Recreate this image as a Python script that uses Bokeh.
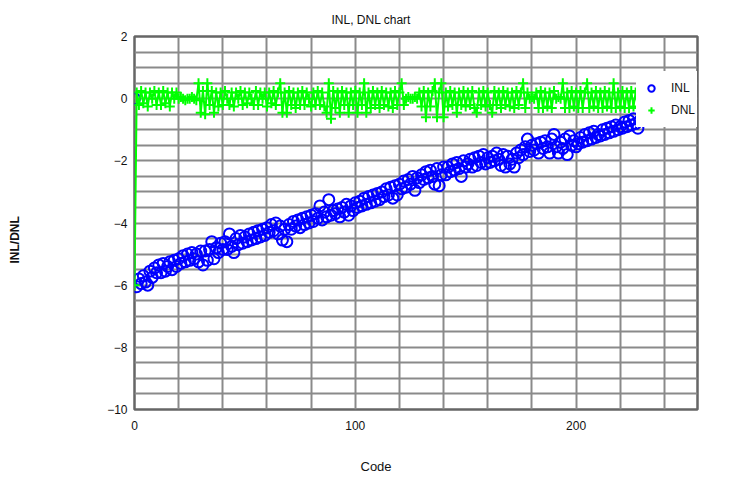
from bokeh.plotting import figure
from bokeh.models import FixedTicker, Legend, LegendItem, Title, Range1d
from bokeh.embed import file_html
from bokeh.resources import INLINE

title_text = "INL, DNL chart"
x_label = "Code"
y_label = "INL/DNL"
x_ticks = [0, 100, 200]
y_ticks = [2, 0, -2, -4, -6, -8, -10]

inl = [0.0,
       -6.05, -5.8, -5.95, -5.7, -5.9, -6.0, -5.55, -5.75, -5.45, -5.6,
       -5.35, -5.6, -5.3, -5.55, -5.4, -5.25, -5.5, -5.2, -5.4, -5.15,
       -5.3, -5.05, -5.25, -5.0, -5.2, -4.95, -5.15, -5.0, -5.25, -4.9,
       -5.35, -4.9, -5.2, -4.85, -4.6, -5.15, -4.8, -4.95, -4.65, -4.85,
       -4.6, -4.85, -4.35, -4.75, -4.95, -4.5, -4.7, -4.4, -4.65, -4.45,
       -4.6, -4.35, -4.55, -4.3, -4.5, -4.25, -4.45, -4.2, -4.4, -4.15,
       -4.3, -4.05, -4.25, -4.0, -4.35, -4.1, -4.55, -4.2, -4.6, -4.05,
       -4.2, -3.95, -4.1, -3.9, -4.15, -3.85, -4.05, -3.8, -4.0, -3.75,
       -3.95, -3.7, -3.85, -3.45, -3.9, -3.65, -3.8, -3.25, -3.75, -3.6,
       -3.7, -3.55, -3.8, -3.5, -3.65, -3.4, -3.75, -3.45, -3.6, -3.35,
       -3.5, -3.3, -3.45, -3.2, -3.4, -3.15, -3.35, -3.1, -3.3, -3.05,
       -3.25, -3.0, -3.15, -2.9, -3.1, -2.85, -3.2, -2.8, -3.1, -2.75,
       -2.9, -2.65, -2.85, -2.6, -2.75, -2.5, -2.95, -2.55, -2.7, -2.45,
       -2.6, -2.35, -2.55, -2.3, -2.5, -2.75, -2.25, -2.8, -2.45, -2.2,
       -2.45, -2.2, -2.35, -2.1, -2.3, -2.05, -2.25, -2.5, -2.0, -2.2,
       -2.1, -1.95, -2.2, -1.9, -2.15, -1.85, -2.05, -1.8, -2.1, -1.9,
       -2.05, -1.85, -2.0, -1.75, -1.95, -2.15, -1.8, -2.2, -1.85, -2.1,
       -1.95, -2.2, -1.75, -1.9, -1.65, -1.8, -1.55, -1.3, -1.7, -1.5,
       -1.65, -1.45, -1.75, -1.4, -1.6, -1.35, -1.55, -1.75, -1.3, -1.15,
       -1.55, -1.75, -1.4, -1.6, -1.3, -1.8, -1.2, -1.5, -1.35, -1.55,
       -1.45, -1.25, -1.4, -1.15, -1.35, -1.1, -1.3, -1.05, -1.25, -1.15,
       -1.2, -1.0, -1.15, -0.95, -1.1, -0.9, -1.05, -0.85, -1.0, -0.9,
       -0.95, -0.75, -0.9, -0.7, -0.85, -0.65, -0.8, -0.95, -0.7]

dnl = [-6.0,
       0.2, -0.2, 0.25, -0.15, 0.2, -0.25, 0.2, 0.0, 0.25, -0.2,
       0.2, -0.2, 0.25, -0.15, 0.2, -0.25, 0.2, 0.0, 0.2,
       0.0, 0.05, 0.0, -0.05, 0.0, 0.0, 0.05, 0.0, -0.05,
       0.5, -0.45, 0.25, -0.5, 0.5, -0.2, 0.25, -0.45, 0.2, -0.25,
       0.2, -0.2, 0.25, 0.0, -0.2, 0.2, -0.25, 0.2, 0.0, 0.25,
       -0.2, 0.2, -0.15, 0.2, 0.0, -0.2, 0.25, -0.2, 0.2, 0.0,
       0.2, -0.25, 0.2, -0.15, 0.25, -0.2, 0.2,
       0.5, -0.45, 0.2, -0.45, 0.25, -0.2, 0.2, -0.3, 0.2, -0.2,
       0.25, -0.2, 0.2, 0.0, -0.25, 0.2, -0.2, 0.25, -0.2, 0.2, -0.25, -0.45, 0.5,
       -0.65, 0.25, -0.3, 0.2, -0.45, 0.25, -0.2, 0.2, -0.45, 0.2, -0.2, 0.25, -0.45, 0.2, -0.2,
       0.5, -0.45, 0.2, -0.3, 0.25, -0.2, 0.2, -0.3, 0.25, -0.2, 0.2, -0.25, 0.2, -0.3, 0.25, -0.2, 0.2, 0.5,
       -0.2, 0.0, 0.05, 0.0, 0.0, 0.05, 0.0, 0.2,
       -0.25, 0.25, -0.6, 0.2, -0.25, 0.25, 0.5, -0.6, 0.2, 0.5, -0.6, 0.2, -0.25, 0.25, -0.2, 0.2,
       -0.45, 0.2, -0.2, 0.25, -0.25, 0.2, -0.2, 0.25, -0.3, -0.45,
       0.2, -0.2, 0.25, -0.25, 0.2, -0.2, -0.45, 0.25, -0.2, 0.2,
       -0.3, 0.25, -0.2, 0.2, -0.25, 0.2, -0.3, 0.25, -0.2, 0.2,
       0.5, -0.3, 0.2, 0.0, 0.05, 0.0, 0.2, -0.3, 0.25, -0.3, 0.2, -0.25, 0.2, -0.3, 0.25,
       0.0, 0.05, 0.0, 0.5, -0.3, 0.2, -0.3, 0.25, -0.25, 0.2, -0.3, 0.25, -0.3, 0.2, 0.5,
       -0.3, 0.2, -0.25, 0.25, -0.3, 0.2, -0.3, 0.25, -0.25, 0.2, -0.3, 0.5,
       -0.3, 0.2, -0.25, 0.25, -0.3, 0.2, -0.3, 0.25, -0.25, 0.2, -0.3, 0.2]

n = min(len(inl), len(dnl))
codes = list(range(n))
inl = inl[:n]
dnl = dnl[:n]

FONT = "Liberation Sans"
GRID = "#8a8a8a"
TXT = "#111111"

p = figure(frame_width=563, frame_height=373,
           min_border_left=134, min_border_top=35, min_border_bottom=77, min_border_right=35,
           x_range=Range1d(0, 255), y_range=Range1d(-10, 2),
           output_backend="svg", toolbar_location=None)
p.background_fill_color = "white"
p.border_fill_color = "white"
p.outline_line_color = "#666666"
p.outline_line_width = 2.5

# title (centred on the whole chart, not on the frame)
p.title.text = title_text
p.title.align = "left"
p.title.offset = 197
p.title.standoff = 20
p.title.text_font = FONT
p.title.text_font_size = "12px"
p.title.text_font_style = "normal"
p.title.text_color = TXT

# grids
p.xgrid.ticker = FixedTicker(ticks=list(range(0, 256, 20)))
p.ygrid.ticker = FixedTicker(ticks=[-10 + 0.5 * i for i in range(25)])
for g in (p.xgrid, p.ygrid):
    g.grid_line_color = GRID
    g.grid_line_width = 2

# axes
p.xaxis.ticker = FixedTicker(ticks=x_ticks)
p.yaxis.ticker = FixedTicker(ticks=y_ticks)
for ax in (p.xaxis, p.yaxis):
    ax.axis_line_color = None
    ax.major_tick_line_color = None
    ax.minor_tick_line_color = None
    ax.major_tick_out = 0
    ax.major_tick_in = 0
    ax.major_label_text_font = FONT
    ax.major_label_text_font_size = "12px"
    ax.major_label_text_color = TXT
    ax.axis_label = " "
    ax.axis_label_text_font_size = "12px"
p.xaxis.major_label_standoff = 11
p.yaxis.major_label_standoff = 7
p.xaxis.axis_label_standoff = 2
p.yaxis.axis_label_standoff = 61

# axis titles placed so that they are centred like the reference
p.add_layout(Title(text=x_label, align="left", offset=226, standoff=10,
                   text_font=FONT, text_font_size="13px", text_font_style="normal",
                   text_color=TXT), "below")
p.add_layout(Title(text=y_label, align="left", offset=146, standoff=10,
                   text_font=FONT, text_font_size="12px", text_font_style="bold",
                   text_color=TXT), "left")

r_inl = p.scatter(codes, inl, marker="circle", size=11, fill_color=None,
                  line_color="#0000ff", line_width=2)
p.line(codes, dnl, line_color="#00ff00", line_width=2)
r_dnl = p.scatter(codes, dnl, marker="cross", size=10, line_color="#00ff00", line_width=2)

legend = Legend(items=[LegendItem(label="INL", renderers=[r_inl]),
                       LegendItem(label="DNL", renderers=[r_dnl])],
                location=(502, 282))
legend.background_fill_color = "white"
legend.background_fill_alpha = 1.0
legend.border_line_color = "white"
legend.border_line_width = 4
legend.padding = 3
legend.spacing = 2
legend.margin = 0
legend.label_height = 20
legend.glyph_height = 20
legend.glyph_width = 16
legend.label_standoff = 12
legend.label_text_font = FONT
legend.label_text_font_size = "12px"
legend.label_text_color = TXT
p.add_layout(legend)

open("out.html", "w").write(file_html(p, INLINE))
